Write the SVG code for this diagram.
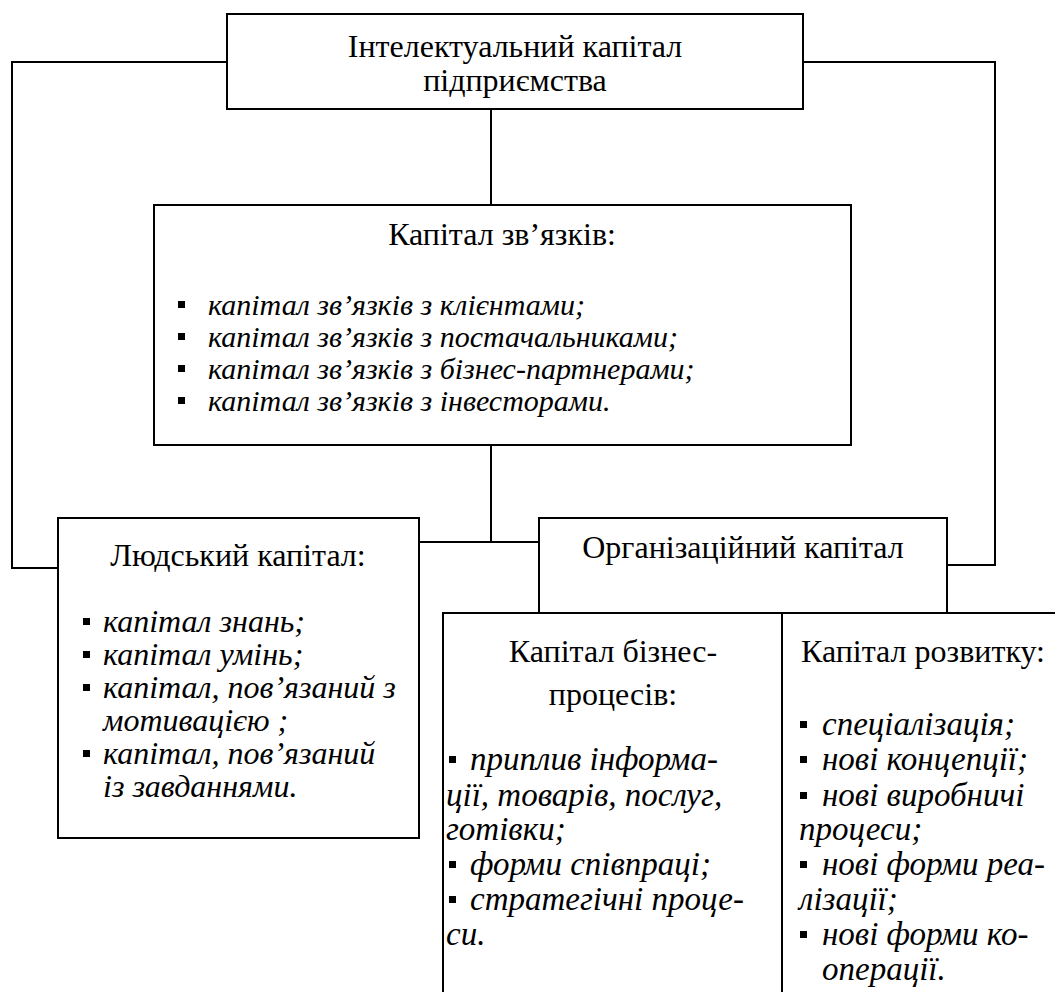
<svg xmlns="http://www.w3.org/2000/svg" width="1055" height="992" viewBox="0 0 1055 992">
  <defs>
    <style>
      .box { fill: #fff; stroke: #000; stroke-width: 2; }
      .ln { fill: none; stroke: #000; stroke-width: 2; }
      .h { font-family: "Liberation Serif", "Times New Roman", serif; font-size: 32px; fill: #000; }
      .c { text-anchor: middle; }
      .it { font-family: "Liberation Serif", "Times New Roman", serif; font-style: italic; fill: #000; }
      .s30 { font-size: 30px; }
      .s32 { font-size: 32px; }
      .s33 { font-size: 33px; }
    </style>
    <rect id="sq" width="7" height="7" fill="#000"/>
  </defs>
  <rect width="1055" height="992" fill="#fff"/>

  <!-- connectors -->
  <g id="connectors">
    <polyline class="ln" points="227,62 12,62 12,568 58,568"/>
    <polyline class="ln" points="803,62 995,62 995,565 947,565"/>
    <line class="ln" x1="491" y1="109" x2="491" y2="205"/>
    <line class="ln" x1="491" y1="445" x2="491" y2="542"/>
    <line class="ln" x1="419" y1="542" x2="539" y2="542"/>
  </g>

  <!-- root node -->
  <g id="intellectual-capital">
    <rect class="box" x="227" y="14" width="576" height="95"/>
    <text class="h c" x="515" y="57">Інтелектуальний капітал</text>
    <text class="h c" x="515" y="91">підприємства</text>
  </g>

  <!-- relational capital -->
  <g id="relational-capital">
    <rect class="box" x="154" y="205" width="697" height="240"/>
    <text class="h c" x="502" y="245">Капітал зв’язків:</text>
    <use href="#sq" x="178" y="301"/>
    <text class="it s30" x="208" y="315">капітал зв’язків з клієнтами;</text>
    <use href="#sq" x="178" y="333"/>
    <text class="it s30" x="208" y="347">капітал зв’язків з постачальниками;</text>
    <use href="#sq" x="178" y="365"/>
    <text class="it s30" x="208" y="379">капітал зв’язків з бізнес-партнерами;</text>
    <use href="#sq" x="178" y="397"/>
    <text class="it s30" x="208" y="411">капітал зв’язків з інвесторами.</text>
  </g>

  <!-- human capital -->
  <g id="human-capital">
    <rect class="box" x="58" y="518" width="361" height="320"/>
    <text class="h c" x="238" y="566">Людський капітал:</text>
    <use href="#sq" x="83" y="618"/>
    <text class="it s32" x="103" y="632">капітал знань;</text>
    <use href="#sq" x="83" y="651"/>
    <text class="it s32" x="103" y="665">капітал умінь;</text>
    <use href="#sq" x="83" y="684"/>
    <text class="it s32" x="103" y="698">капітал, пов’язаний з</text>
    <text class="it s32" x="103" y="731">мотивацією ;</text>
    <use href="#sq" x="83" y="750"/>
    <text class="it s32" x="103" y="764">капітал, пов’язаний</text>
    <text class="it s32" x="103" y="797">із завданнями.</text>
  </g>

  <!-- organisational capital -->
  <g id="organisational-capital">
    <rect class="box" x="539" y="518" width="408" height="95"/>
    <text class="h c" x="743" y="558">Організаційний капітал</text>
  </g>

  <!-- business process capital -->
  <g id="business-process-capital">
    <rect class="box" x="443" y="613" width="339" height="400"/>
    <text class="h c" x="613" y="662">Капітал бізнес-</text>
    <text class="h c" x="613" y="705">процесів:</text>
    <use href="#sq" x="449" y="756"/>
    <text class="it s33" x="470" y="770">приплив інформа-</text>
    <text class="it s33" x="446" y="806">ції, товарів, послуг,</text>
    <text class="it s33" x="446" y="840">готівки;</text>
    <use href="#sq" x="449" y="861"/>
    <text class="it s33" x="470" y="875">форми співпраці;</text>
    <use href="#sq" x="449" y="896"/>
    <text class="it s33" x="470" y="910">стратегічні проце-</text>
    <text class="it s33" x="446" y="945">си.</text>
  </g>

  <!-- development capital -->
  <g id="development-capital">
    <rect class="box" x="782" y="613" width="290" height="400"/>
    <text class="h" x="801" y="662">Капітал розвитку:</text>
    <use href="#sq" x="800" y="721"/>
    <text class="it s33" x="822" y="735">спеціалізація;</text>
    <use href="#sq" x="800" y="756"/>
    <text class="it s33" x="822" y="770">нові концепції;</text>
    <use href="#sq" x="800" y="792"/>
    <text class="it s33" x="822" y="806">нові виробничі</text>
    <text class="it s33" x="799" y="840">процеси;</text>
    <use href="#sq" x="800" y="861"/>
    <text class="it s33" x="822" y="875">нові форми реа-</text>
    <text class="it s33" x="799" y="910">лізації;</text>
    <use href="#sq" x="800" y="931"/>
    <text class="it s33" x="822" y="945">нові форми ко-</text>
    <text class="it s33" x="822" y="980">операції.</text>
  </g>
</svg>
